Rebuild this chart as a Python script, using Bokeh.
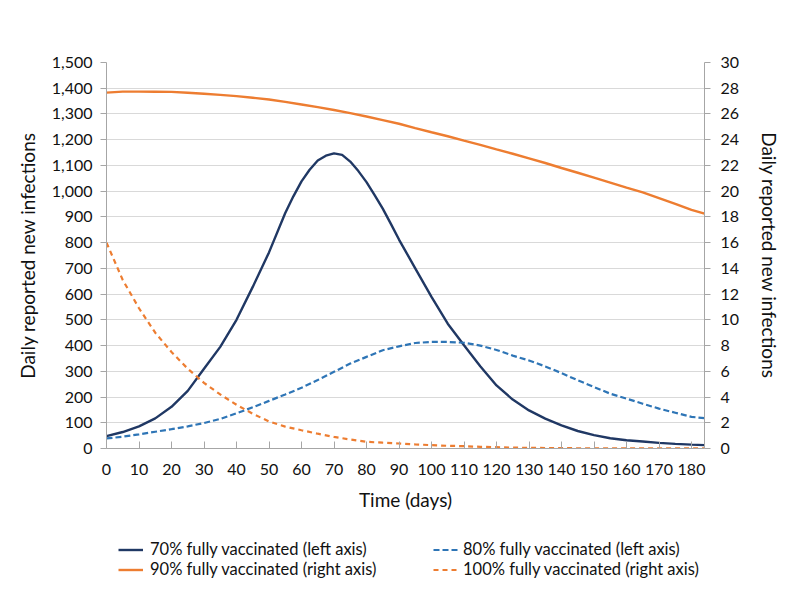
from bokeh.plotting import figure
from bokeh.layouts import column
from bokeh.models import Range1d, LinearAxis, FixedTicker, NumeralTickFormatter, Legend, LegendItem
from bokeh.embed import file_html
from bokeh.resources import INLINE

days = [0, 5, 10, 15, 20, 25, 30, 35, 40, 45, 50, 55, 60, 65, 70, 75, 80, 85, 90, 95,
        100, 105, 110, 115, 120, 125, 130, 135, 140, 145, 150, 155, 160, 165, 170, 175, 180, 184]

days70 = [0, 5, 10, 15, 20, 25, 30, 35, 40, 45, 50, 55, 57.5, 60, 62.5, 65, 67.5, 70, 72.5, 75,
          77.5, 80, 82.5, 85, 87.5, 90, 95, 100, 105, 110, 115, 120, 125, 130, 135, 140, 145,
          150, 155, 160, 165, 170, 175, 180, 184]
vacc70_left = [48, 64, 86, 117, 162, 224, 310, 395, 500, 628, 762, 915, 980, 1038, 1083, 1119,
               1138, 1147, 1141, 1115, 1078, 1035, 985, 932, 873, 812, 700, 589, 485, 401, 320,
               245, 190, 148, 116, 90, 68, 52, 40, 32, 27, 22, 18, 15, 13]

vacc80_left = [39, 46, 55, 65, 75, 86, 99, 115, 137, 160, 185, 210, 236, 266, 298, 330, 356, 382,
               397, 410, 414, 414, 411, 400, 383, 361, 342, 319, 293, 265, 239, 213, 194, 174,
               155, 139, 123, 118]
vacc90_right = [27.66, 27.74, 27.74, 27.73, 27.72, 27.65, 27.57, 27.48, 27.39, 27.26, 27.12, 26.94,
                26.74, 26.53, 26.31, 26.06, 25.80, 25.52, 25.24, 24.90, 24.58, 24.27, 23.93, 23.60,
                23.25, 22.91, 22.55, 22.19, 21.80, 21.43, 21.05, 20.67, 20.28, 19.90, 19.46, 19.02,
                18.55, 18.25]
vacc100_right = [16.0, 13.1, 10.9, 9.0, 7.5, 6.2, 5.1, 4.2, 3.4, 2.7, 2.1, 1.7, 1.42, 1.15, 0.9,
                 0.7, 0.52, 0.45, 0.39, 0.32, 0.26, 0.21, 0.18, 0.13, 0.1, 0.07, 0.05, 0.04, 0.03,
                 0.02, 0.02, 0.01, 0.01, 0.01, 0.01, 0.01, 0.01, 0.01]

x_ticks = list(range(0, 181, 10))
left_ticks = list(range(0, 1501, 100))
right_ticks = list(range(0, 31, 2))

labels = ["70% fully vaccinated (left axis)", "80% fully vaccinated (left axis)",
          "90% fully vaccinated (right axis)", "100% fully vaccinated (right axis)"]

FONT = "Lato"
NAVY = "#203864"
BLUE = "#2E75B6"
ORANGE = "#ED7D31"
AXIS = "#A6A6A6"
GRID = "#D9D9D9"
TXT = "#111111"

p = figure(width=784, height=522, output_backend="svg", toolbar_location=None,
           x_range=Range1d(0, 184), y_range=Range1d(0, 1500),
           min_border_left=106, min_border_right=78, min_border_top=62, min_border_bottom=74)
p.extra_y_ranges = {"right": Range1d(0, 30)}
p.outline_line_color = None
p.background_fill_color = "white"

p.xgrid.grid_line_color = None
p.ygrid.grid_line_color = GRID
p.ygrid.grid_line_width = 1
p.ygrid.ticker = FixedTicker(ticks=left_ticks)

# bottom axis
xa = p.xaxis[0]
xa.ticker = FixedTicker(ticks=x_ticks)
xa.axis_label = "Time (days)"
xa.axis_line_color = AXIS
xa.major_tick_line_color = AXIS
xa.major_tick_in = 7
xa.major_tick_out = 0
xa.minor_tick_line_color = None
xa.major_label_standoff = 15
xa.axis_label_standoff = 10

# left axis
ya = p.yaxis[0]
ya.ticker = FixedTicker(ticks=left_ticks)
ya.formatter = NumeralTickFormatter(format="0,0")
ya.axis_label = "Daily reported new infections"
ya.axis_line_color = AXIS
ya.major_tick_line_color = AXIS
ya.major_tick_in = 0
ya.major_tick_out = 6
ya.minor_tick_line_color = None
ya.major_label_standoff = 8
ya.axis_label_standoff = 10

# right axis
ra = LinearAxis(y_range_name="right", ticker=FixedTicker(ticks=right_ticks),
                axis_label="Daily reported new infections")
ra.axis_line_color = AXIS
ra.major_tick_line_color = AXIS
ra.major_tick_in = 0
ra.major_tick_out = 6
ra.minor_tick_line_color = None
ra.major_label_standoff = 10
ra.axis_label_standoff = 16
p.add_layout(ra, "right")

for ax in [xa, ya, ra]:
    ax.major_label_text_font = FONT
    ax.major_label_text_font_size = "16px"
    ax.major_label_text_color = TXT
    ax.axis_label_text_font = FONT
    ax.axis_label_text_font_size = "19px"
    ax.axis_label_text_font_style = "normal"
    ax.axis_label_text_color = TXT

STY70 = dict(line_color=NAVY, line_width=2.4)
STY80 = dict(line_color=BLUE, line_width=2.2, line_dash="6 3")
STY90 = dict(line_color=ORANGE, line_width=2.4)
STY100 = dict(line_color=ORANGE, line_width=2.2, line_dash="5 4")

p.line(days70, vacc70_left, **STY70)
p.line(days, vacc80_left, **STY80)
p.line(days, vacc90_right, y_range_name="right", **STY90)
p.line(days, vacc100_right, y_range_name="right", **STY100)

# legend strip below the chart (its lines sit outside its visible ranges; only the keys show)
lf = figure(width=784, height=82, output_backend="svg", toolbar_location=None,
            x_axis_type=None, y_axis_type=None, x_range=Range1d(-2, -1), y_range=Range1d(-2, -1),
            min_border_left=0, min_border_right=0, min_border_top=0, min_border_bottom=0)
lf.outline_line_color = None
lf.xgrid.grid_line_color = None
lf.ygrid.grid_line_color = None
k70 = lf.line(days70, vacc70_left, **STY70)
k80 = lf.line(days, vacc80_left, **STY80)
k90 = lf.line(days, vacc90_right, **STY90)
k100 = lf.line(days, vacc100_right, **STY100)


def make_legend(items, loc, standoff):
    lg = Legend(items=items, location=loc, orientation="vertical")
    lg.label_text_font = FONT
    lg.label_text_font_size = "16.5px"
    lg.label_text_color = TXT
    lg.glyph_width = 25
    lg.glyph_height = 19
    lg.label_height = 19
    lg.label_standoff = standoff
    lg.spacing = 0
    lg.padding = 0
    lg.margin = 0
    lg.border_line_color = None
    lg.background_fill_alpha = 0
    return lg


lf.add_layout(make_legend([LegendItem(label=labels[0], renderers=[k70]),
                           LegendItem(label=labels[2], renderers=[k90])], (12, 25), 7), "center")
lf.add_layout(make_legend([LegendItem(label=labels[1], renderers=[k80]),
                           LegendItem(label=labels[3], renderers=[k100])], (327, 25), 5), "center")

open("out.html", "w").write(file_html(column(p, lf, spacing=0), INLINE))
